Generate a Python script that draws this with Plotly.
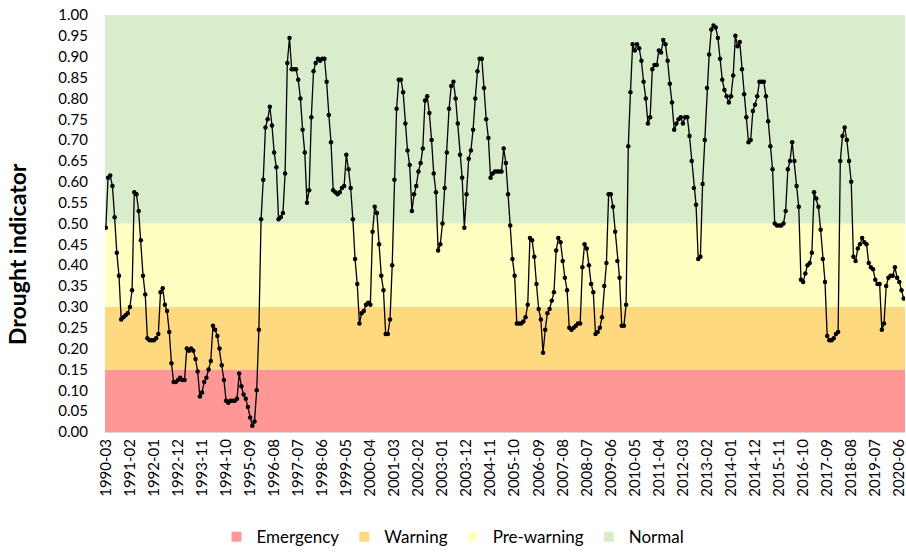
import pandas as pd
import plotly.graph_objects as go

# drought indicator, monthly from 1990-03
part_1990 = [0.49, 0.61, 0.615, 0.59, 0.515, 0.43, 0.375, 0.27, 0.275, 0.28,
             0.285, 0.30, 0.34, 0.575, 0.57, 0.53, 0.46, 0.375, 0.33, 0.225,
             0.22, 0.22, 0.22, 0.225, 0.235, 0.335, 0.345, 0.305, 0.29, 0.24,
             0.165, 0.12, 0.12, 0.125, 0.13, 0.125, 0.125, 0.20, 0.195, 0.20,
             0.195, 0.175, 0.145, 0.085, 0.095, 0.12]
part_1994 = [0.13, 0.15, 0.17, 0.255, 0.245, 0.23, 0.20, 0.16, 0.125, 0.075,
             0.07, 0.075, 0.075, 0.075, 0.08, 0.14, 0.11, 0.09, 0.08, 0.06,
             0.035, 0.015, 0.025, 0.10, 0.245, 0.51, 0.605, 0.73, 0.75, 0.78,
             0.735, 0.67, 0.635, 0.51, 0.515, 0.525, 0.62, 0.885, 0.945, 0.87,
             0.87, 0.87, 0.845, 0.80, 0.725, 0.67, 0.55]
part_1998 = [0.58, 0.755, 0.865, 0.885, 0.895, 0.89, 0.895, 0.895, 0.84, 0.76,
             0.695, 0.58, 0.575, 0.57, 0.575, 0.585, 0.59, 0.665, 0.63, 0.585,
             0.51, 0.415, 0.355, 0.26, 0.285, 0.29, 0.305, 0.31, 0.305, 0.48,
             0.54, 0.525, 0.45, 0.375, 0.34, 0.235, 0.235, 0.27, 0.40, 0.605,
             0.775, 0.845, 0.845, 0.815, 0.74, 0.675]
part_2001 = [0.64, 0.53, 0.57, 0.59, 0.625, 0.645, 0.68, 0.795, 0.805, 0.765,
             0.70, 0.62, 0.575, 0.435, 0.45, 0.50, 0.585, 0.67, 0.775, 0.83,
             0.84, 0.80, 0.74, 0.665, 0.61, 0.49, 0.57, 0.655, 0.675, 0.725,
             0.80, 0.865, 0.895, 0.895, 0.825, 0.75, 0.705, 0.61, 0.62, 0.625,
             0.625, 0.625, 0.625, 0.68, 0.645, 0.57]
part_2005 = [0.495, 0.415, 0.375, 0.26, 0.26, 0.26, 0.265, 0.275, 0.305, 0.465,
             0.46, 0.42, 0.355, 0.295, 0.27, 0.19, 0.245, 0.285, 0.295, 0.315,
             0.335, 0.435, 0.465, 0.455, 0.41, 0.37, 0.34, 0.25, 0.245, 0.25,
             0.255, 0.26, 0.26, 0.395, 0.45, 0.44, 0.40, 0.355, 0.335, 0.235,
             0.24, 0.25, 0.275, 0.35, 0.405, 0.57]
part_2009 = [0.57, 0.54, 0.48, 0.41, 0.37, 0.255, 0.255, 0.305, 0.685, 0.815,
             0.93, 0.915, 0.93, 0.92, 0.89, 0.84, 0.80, 0.74, 0.755, 0.87,
             0.88, 0.88, 0.915, 0.91, 0.94, 0.93, 0.89, 0.835, 0.79, 0.725,
             0.74, 0.75, 0.755, 0.74, 0.755, 0.755, 0.71, 0.65, 0.585, 0.545,
             0.415, 0.42, 0.595, 0.70, 0.825]
part_2013 = [0.905, 0.965, 0.975, 0.97, 0.945, 0.895, 0.845, 0.82, 0.805, 0.79,
             0.805, 0.855, 0.95, 0.925, 0.935, 0.87, 0.81, 0.755, 0.695, 0.70,
             0.77, 0.785, 0.805, 0.84, 0.84, 0.84, 0.805, 0.745, 0.685, 0.63,
             0.50, 0.495, 0.495, 0.495, 0.50, 0.53, 0.63, 0.65, 0.695, 0.65,
             0.59, 0.54, 0.365, 0.36]
part_2017 = [0.38, 0.40, 0.405, 0.43, 0.575, 0.56, 0.54, 0.485, 0.415, 0.36,
             0.23, 0.22, 0.22, 0.225, 0.235, 0.24, 0.65, 0.71, 0.73, 0.70,
             0.65, 0.60, 0.42, 0.41, 0.44, 0.45, 0.465, 0.455, 0.45, 0.405,
             0.395, 0.39, 0.365, 0.355, 0.355, 0.245, 0.26, 0.35, 0.37, 0.375,
             0.375, 0.395, 0.37, 0.36, 0.34, 0.32]

tick_labels = ["1990-03", "1991-02", "1992-01", "1992-12", "1993-11", "1994-10",
               "1995-09", "1996-08", "1997-07", "1998-06", "1999-05", "2000-04",
               "2001-03", "2002-02", "2003-01", "2003-12", "2004-11", "2005-10",
               "2006-09", "2007-08", "2008-07", "2009-06", "2010-05", "2011-04",
               "2012-03", "2013-02", "2014-01", "2014-12", "2015-11", "2016-10",
               "2017-09", "2018-08", "2019-07", "2020-06"]

zone_names = ["Emergency", "Warning", "Pre-warning", "Normal"]
zone_bounds = [0.0, 0.15, 0.30, 0.50, 1.0]
zone_colors = ["#FF9797", "#FFD980", "#FFFFC2", "#D9EDCA"]

values = (part_1990 + part_1994 + part_1998 + part_2001 + part_2005
          + part_2009 + part_2013 + part_2017)
months = pd.period_range("1990-03", periods=len(values), freq="M").strftime("%Y-%m").tolist()

font = "Lato"

fig = go.Figure()

for name, lo, hi, color in zip(zone_names, zone_bounds[:-1], zone_bounds[1:], zone_colors):
    fig.add_shape(type="rect", xref="paper", yref="y", x0=0, x1=1, y0=lo, y1=hi,
                  fillcolor=color, line_width=0, layer="below")
    # legend swatch only
    fig.add_trace(go.Scatter(x=[months[0]], y=[None], mode="markers", name=name,
                             marker=dict(symbol="square", size=10, color=color)))

fig.add_trace(go.Scatter(x=months, y=values, mode="lines+markers", showlegend=False,
                         line=dict(color="black", width=1.3),
                         marker=dict(color="black", size=4.5)))

fig.add_annotation(text="<b>Drought indicator</b>", textangle=-90, showarrow=False,
                   xref="paper", yref="paper", x=-0.11, y=0.427,
                   xanchor="center", yanchor="middle",
                   font=dict(family=font, size=23, color="black"))

fig.update_layout(
    width=906, height=552,
    margin=dict(l=105, r=1, t=15, b=120, autoexpand=False),
    paper_bgcolor="white", plot_bgcolor="white",
    font=dict(family=font, color="black"),
    legend=dict(orientation="h", xref="container", yref="container",
                x=0.5, y=0.027, xanchor="center", yanchor="middle",
                font=dict(size=17), itemwidth=30, traceorder="normal"),
)
fig.update_xaxes(type="category", range=[-0.4, len(values) - 0.4], automargin=False,
                 tickmode="array", tickvals=tick_labels, ticktext=tick_labels,
                 tickangle=-90, tickfont=dict(size=15), showgrid=False,
                 showline=True, linecolor="#d9d9d9")
fig.update_yaxes(range=[0, 1], tick0=0, dtick=0.05, tickformat=".2f", automargin=False,
                 tickfont=dict(size=15), showgrid=False, zeroline=False,
                 ticklabelstandoff=16)

# drop the page's default body margin so the 906x552 figure fills the window
fig.write_html("out.html", config={"displayModeBar": False},
               post_script="document.body.style.margin = '0';")
